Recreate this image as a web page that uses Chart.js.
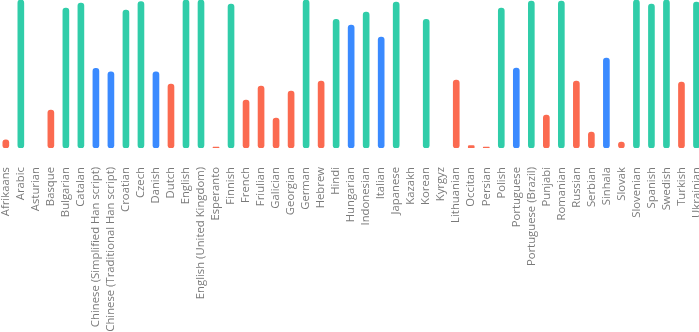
<!DOCTYPE html>
<html><head><meta charset="utf-8">
<script src="https://cdn.jsdelivr.net/npm/chart.js@4/dist/chart.umd.min.js"></script>
<style>
html,body{margin:0;padding:0;overflow:hidden;background:#fff;}
#wrap{position:absolute;left:-4.7px;top:0;width:726px;height:332px;}
</style></head>
<body>
<div id="wrap"><canvas id="c"></canvas></div>
<script>
const languages = ["Afrikaans","Arabic","Asturian","Basque","Bulgarian","Catalan","Chinese (Simplified Han script)","Chinese (Traditional Han script)","Croatian","Czech","Danish","Dutch","English","English (United Kingdom)","Esperanto","Finnish","French","Friulian","Galician","Georgian","German","Hebrew","Hindi","Hungarian","Indonesian","Italian","Japanese","Kazakh","Korean","Kyrgyz","Lithuanian","Occitan","Persian","Polish","Portuguese","Portuguese (Brazil)","Punjabi","Romanian","Russian","Serbian","Sinhala","Slovak","Slovenian","Spanish","Swedish","Turkish","Ukrainian"];
const completion = [5.5,100,0,25.7,94.6,98,53.8,51.4,93.2,99,51.4,43.2,100,100,0.6,97.3,32.4,41.9,20.3,38.5,100,45.3,87,83.1,91.9,75,98.6,0,87,0,45.9,1.6,0.6,94.6,54,99.3,22.3,99.3,45.3,10.8,60.8,4,100,97.3,100,44.6,98.6];
const GREEN = "#30cda9", BLUE = "#3a8aff", RED = "#fb6a50";
const colors = completion.map(v => v === 0 ? "rgba(0,0,0,0)" : v >= 85 ? GREEN : (v >= 50 ? BLUE : RED));
new Chart(document.getElementById('c'), {
  type: 'bar',
  data: { labels: languages, datasets: [{ data: completion, backgroundColor: colors, borderRadius: 3, borderSkipped: false, barThickness: 6 }] },
  options: {
    responsive: true, maintainAspectRatio: false, animation: false,
    layout: { padding: 0 },
    plugins: { legend: { display: false }, tooltip: { enabled: false } },
    scales: {
      x: { grid: { display: false }, border: { display: false },
           afterFit: s => { s.height = 184; },
           ticks: { color: '#7a7a7a', padding: 11, font: { family: 'Open Sans', size: 11.3 }, maxRotation: 90, minRotation: 90, autoSkip: false } },
      y: { display: false, min: 0, max: 100 }
    }
  }
});
</script>
</body></html>
